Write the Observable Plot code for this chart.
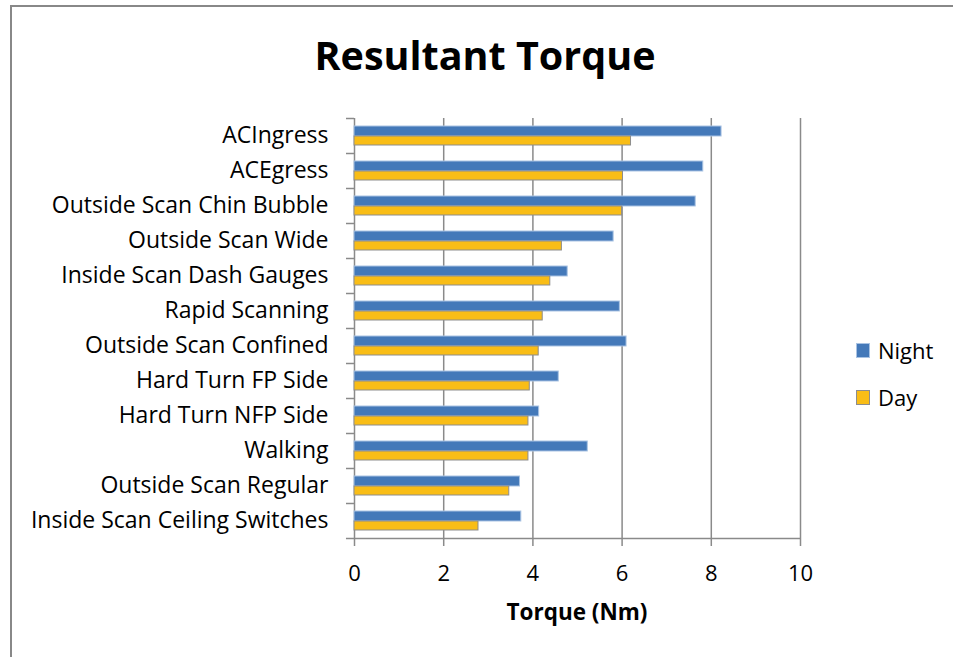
<!DOCTYPE html>
<html>
<head>
<meta charset="utf-8">
<script src="https://cdn.jsdelivr.net/npm/d3@7"></script>
<script src="https://cdn.jsdelivr.net/npm/@observablehq/plot@0.6"></script>
<style>
  html, body { margin: 0; padding: 0; background: #fff; }
  #wrap { position: relative; width: 953px; height: 657px; background: #fff; overflow: hidden; font-family: "Open Sans", sans-serif; }
  #border { position: absolute; left: 10px; top: 5px; width: 960px; height: 670px; border-top: 2px solid #888; border-left: 2px solid #888; box-sizing: border-box; }
  #title { position: absolute; top: 30px; left: 0; width: 970px; text-align: center; font-weight: bold; font-size: 39.5px; line-height: 50px; color: #000; }
  #xlabel { position: absolute; top: 597px; left: 0; width: 1154px; text-align: center; font-weight: bold; font-size: 22.5px; line-height: 30px; color: #000; }
  #chart { position: absolute; left: 0; top: 0; }
  #legend { position: absolute; left: 856px; top: 334px; font-size: 22px; color: #000; }
  .item { position: relative; height: 47px; }
  .sw { position: absolute; left: 0; top: 9px; width: 14px; height: 15px; box-sizing: border-box; }
  .lab { position: absolute; left: 22px; top: 0; line-height: 32px; }
</style>
</head>
<body>
<div id="wrap">
  <div id="border"></div>
  <div id="chart"></div>
  <div id="title">Resultant Torque</div>
  <div id="xlabel">Torque (Nm)</div>
  <div id="legend"></div>
</div>
<script>
const categories = ["ACIngress","ACEgress","Outside Scan Chin Bubble","Outside Scan Wide","Inside Scan Dash Gauges","Rapid Scanning","Outside Scan Confined","Hard Turn FP Side","Hard Turn NFP Side","Walking","Outside Scan Regular","Inside Scan Ceiling Switches"];
const nightValues = [8.23,7.82,7.65,5.81,4.78,5.95,6.10,4.58,4.14,5.23,3.71,3.74];
const dayValues = [6.20,6.02,6.00,4.65,4.39,4.22,4.13,3.93,3.90,3.90,3.47,2.78];
const seriesNames = ["Night","Day"];
const xTicks = [0,2,4,6,8,10];

const nightColor = "#4479b9";
const dayColor = "#f9bd16";
const gridColor = "#8a8a8a";

const nightData = categories.map((c,i) => ({category: c, value: nightValues[i]}));
const dayData = categories.map((c,i) => ({category: c, value: dayValues[i]}));

const plot = Plot.plot({
  width: 953,
  height: 657,
  marginLeft: 354,
  marginRight: 153,
  marginTop: 118,
  marginBottom: 119,
  style: {fontFamily: "Open Sans, sans-serif", fontSize: "22px", color: "#000", background: "transparent"},
  x: {domain: [0, 10]},
  y: {domain: categories, padding: 0},
  marks: [
    Plot.gridX(xTicks, {stroke: gridColor, strokeOpacity: 1, strokeWidth: 1.5}),
    Plot.ruleY(categories, {y: d => d, x1: -0.18, x2: 0, dy: -17.5, stroke: gridColor, strokeWidth: 1.5}),
    Plot.ruleY([categories[categories.length - 1]], {x1: -0.18, x2: 10, dy: 17.5, stroke: gridColor, strokeWidth: 1.5}),
    Plot.barX(nightData, {x: "value", y: "category", fill: nightColor, stroke: "#a9c3e3", strokeWidth: 1, insetTop: 8, insetBottom: 17}),
    Plot.barX(dayData, {x: "value", y: "category", fill: dayColor, stroke: "#8d8d8d", strokeWidth: 1, insetTop: 18, insetBottom: 8}),
    Plot.axisY({tickSize: 0, tickPadding: 26, label: null, fontSize: 23}),
    Plot.axisX({ticks: xTicks, tickSize: 8, stroke: gridColor, strokeWidth: 1.5, tickPadding: 19, label: null, fontSize: 22})
  ]
});
document.getElementById("chart").appendChild(plot);

const legend = document.getElementById("legend");
const legendColors = {Night: [nightColor, "#a9c3e3"], Day: [dayColor, "#8d8d8d"]};
seriesNames.forEach(name => {
  const item = document.createElement("div");
  item.className = "item";
  const sw = document.createElement("div");
  sw.className = "sw";
  sw.style.background = legendColors[name][0];
  sw.style.border = "1px solid " + legendColors[name][1];
  const lab = document.createElement("div");
  lab.className = "lab";
  lab.textContent = name;
  item.appendChild(sw);
  item.appendChild(lab);
  legend.appendChild(item);
});
</script>
</body>
</html>
